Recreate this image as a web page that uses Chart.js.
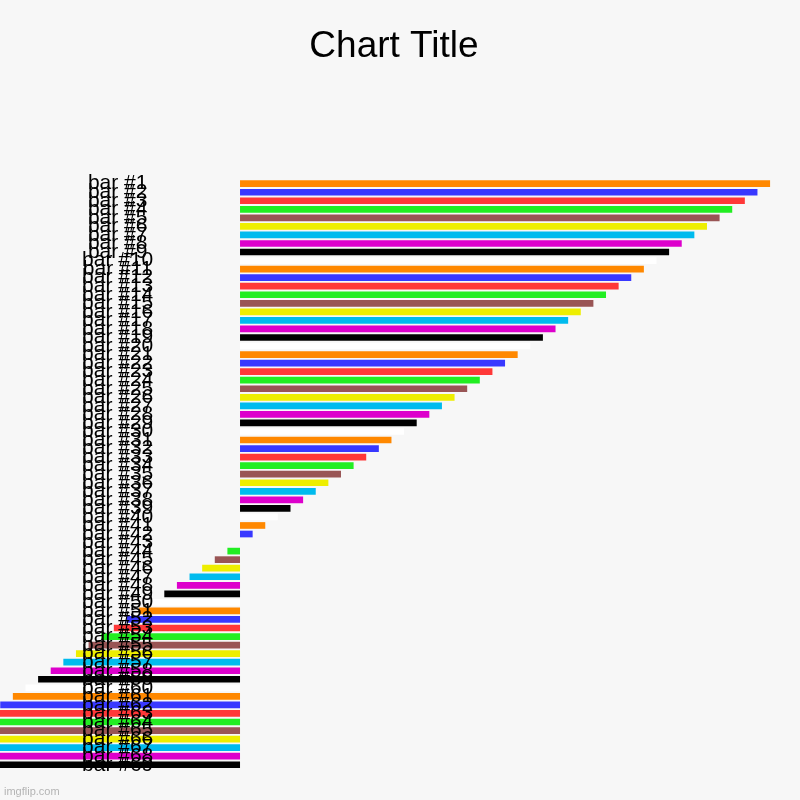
<!DOCTYPE html>
<html>
<head>
<meta charset="utf-8">
<script src="https://cdn.jsdelivr.net/npm/chart.js@4.4.1/dist/chart.umd.min.js"></script>
<style>
  html, body { margin: 0; padding: 0; background: #f7f7f7; }
  #wrap { width: 800px; height: 800px; }
</style>
</head>
<body>
<div id="wrap"><canvas id="barChart" width="800" height="800"></canvas></div>
<script>
// bar names as on the y axis
const categories = [
  "bar #1", "bar #2", "bar #3", "bar #4", "bar #5", "bar #6", "bar #7", "bar #8", "bar #9", "bar #10",
  "bar #11", "bar #12", "bar #13", "bar #14", "bar #15", "bar #16", "bar #17", "bar #18", "bar #19", "bar #20",
  "bar #21", "bar #22", "bar #23", "bar #24", "bar #25", "bar #26", "bar #27", "bar #28", "bar #29", "bar #30",
  "bar #31", "bar #32", "bar #33", "bar #34", "bar #35", "bar #36", "bar #37", "bar #38", "bar #39", "bar #40",
  "bar #41", "bar #42", "bar #43", "bar #44", "bar #45", "bar #46", "bar #47", "bar #48", "bar #49", "bar #50",
  "bar #51", "bar #52", "bar #53", "bar #54", "bar #55", "bar #56", "bar #57", "bar #58", "bar #59", "bar #60",
  "bar #61", "bar #62", "bar #63", "bar #64", "bar #65", "bar #66", "bar #67", "bar #68", "bar #69"
];

// values
const values = [
  42, 41, 40, 39, 38, 37, 36, 35, 34, 33,
  32, 31, 30, 29, 28, 27, 26, 25, 24, 23,
  22, 21, 20, 19, 18, 17, 16, 15, 14, 13,
  12, 11, 10, 9, 8, 7, 6, 5, 4, 3,
  2, 1, 0, -1, -2, -3, -4, -5, -6, -7,
  -8, -9, -10, -11, -12, -13, -14, -15, -16, -17,
  -18, -19, -20, -21, -22, -23, -24, -25, -26
];

// colours repeat every ten bars
const palette = [
  "#ff8800", "#3838ff", "#ff3838", "#22ee22", "#995555",
  "#eeee00", "#00bbee", "#dd00cc", "#000000", "#ffffff"
];

const barColors = values.map((v, i) => palette[i % palette.length]);

// small watermark in the corner
const watermark = {
  id: "watermark",
  afterDraw(chart) {
    const c = chart.ctx;
    c.save();
    c.font = "11px 'Liberation Sans', Arial, sans-serif";
    c.fillStyle = "#b4b4b4";
    c.textBaseline = "alphabetic";
    c.fillText("imgflip.com", 4, 795);
    c.restore();
  }
};

document.addEventListener("DOMContentLoaded", function () {
  const ctx = document.getElementById("barChart");

  const data = {
    labels: categories,
    datasets: [
      {
        data: values,
        backgroundColor: barColors,
        borderWidth: 0,
        barPercentage: 0.92,
        categoryPercentage: 0.85,
        clip: false,
      },
    ],
  };

  const config = {
    type: "bar",
    data: data,
    options: {
      indexAxis: "y",
      responsive: false,
      animation: false,
      layout: {
        padding: { top: 0, right: 12, bottom: 31, left: 0 },
      },
      scales: {
        x: {
          display: false,
          min: -6,
          max: 43.42,
        },
        y: {
          grid: { display: false, drawTicks: false },
          border: { display: false },
          ticks: {
            z: 1,
            autoSkip: false,
            crossAlign: "center",
            padding: 11,
            color: "#000000",
            font: { family: "'Liberation Sans', Arial, sans-serif", size: 21 },
          },
          afterFit: function (scale) {
            scale.width = 164.3;
          },
        },
      },
      plugins: {
        legend: { display: false },
        tooltip: { enabled: false },
        title: {
          display: true,
          text: "Chart Title",
          color: "#000000",
          font: { family: "'Liberation Sans', Arial, sans-serif", size: 37, weight: "normal" },
          padding: { top: 25, bottom: 110 },
        },
      },
    },
    plugins: [watermark],
  };

  const barChart = new Chart(ctx, config);
});
</script>
</body>
</html>
